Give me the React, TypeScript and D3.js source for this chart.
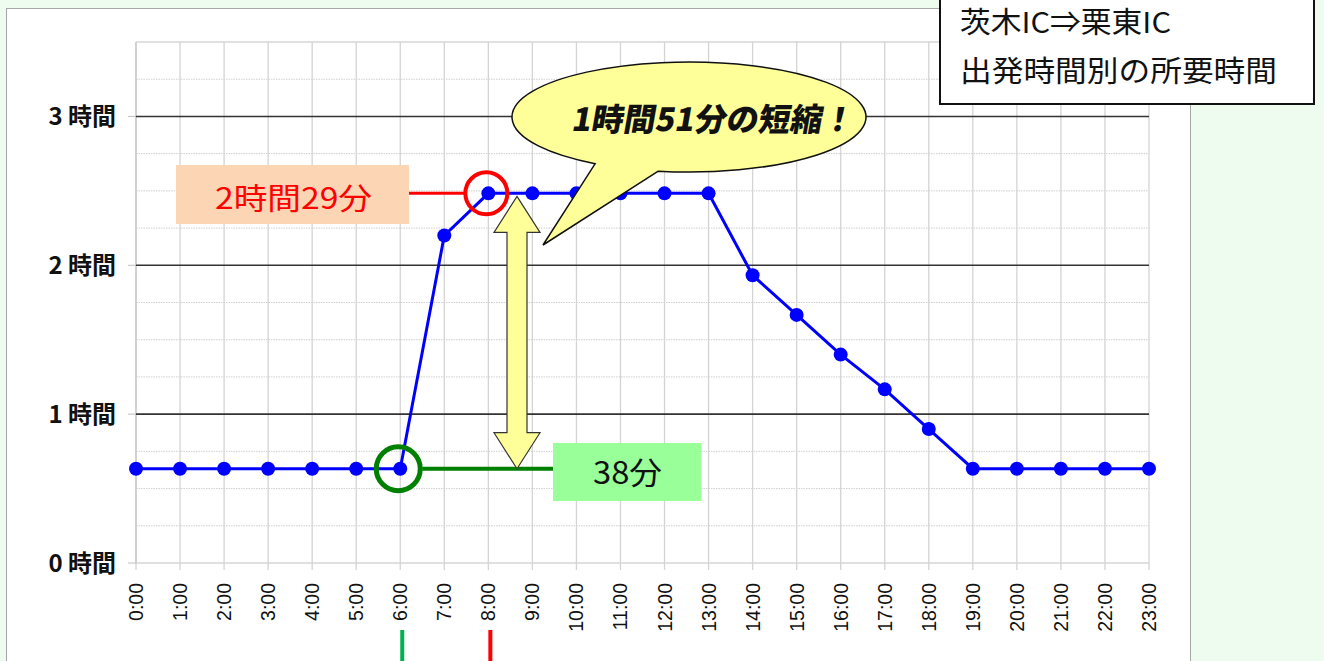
import * as d3 from 'd3'

const hours = d3.range(0, 24)
const hourLabels = hours.map(h => `${h}:00`)
// 所要時間（分）
const minutes = [38, 38, 38, 38, 38, 38, 38, 132, 149, 149, 149, 149, 149, 149, 116, 100, 84, 70, 54, 38, 38, 38, 38, 38]
const yTicks = [0, 1, 2, 3]
const titleLines = ['茨木IC⇒栗東IC', '出発時間別の所要時間']

const W = 1324
const H = 661
const JP = '"Noto Sans CJK JP", "Noto Sans", sans-serif'

const App = () => {
    const x = d3.scaleLinear().domain([0, 23]).range([136, 1149])
    const y = d3.scaleLinear().domain([0, 3.5]).range([563, 42])
    const line = d3
        .line<number>()
        .x((_, i) => x(hours[i]))
        .y(d => y(d / 60))

    const minor = d3.range(0.25, 3.4, 0.25).filter(v => Math.abs(v - Math.round(v)) > 0.01)

    const peakX = x(8)
    const peakY = y(minutes[8] / 60)
    const lowX = x(6)
    const lowY = y(minutes[6] / 60)

    // double arrow between the two levels
    const ax = 517
    const headW = 23
    const shaftW = 10
    const headH = 36
    const arrow = [
        [ax, peakY + 3],
        [ax + headW, peakY + 3 + headH],
        [ax + shaftW, peakY + 3 + headH],
        [ax + shaftW, lowY - headH],
        [ax + headW, lowY - headH],
        [ax, lowY],
        [ax - headW, lowY - headH],
        [ax - shaftW, lowY - headH],
        [ax - shaftW, peakY + 3 + headH],
        [ax - headW, peakY + 3 + headH],
    ]

    // speech bubble: ellipse + tail
    const cx = 689
    const cy = 117
    const rx = 177
    const ry = 55
    const a1 = (100 * Math.PI) / 180
    const a2 = (122 * Math.PI) / 180
    const bubblePath =
        `M${cx + rx * Math.cos(a1)},${cy + ry * Math.sin(a1)} ` +
        `L543,245 ` +
        `L${cx + rx * Math.cos(a2)},${cy + ry * Math.sin(a2)} ` +
        `A${rx},${ry} 0 1 1 ${cx + rx * Math.cos(a1)},${cy + ry * Math.sin(a1)} Z`

    return (
        <div style={{ position: 'absolute', left: 0, top: 0 }}>
            <style>{`body{margin:0}`}</style>
            <svg width={W} height={H} style={{ display: 'block' }} fontFamily={JP}>
                <rect x={0} y={0} width={W} height={H} fill='#EDFCEE' />
                <rect x={6.5} y={8.5} width={1184} height={H} fill='#fff' stroke='#A8A8A8' />

                {/* grid */}
                {minor.map(v => (
                    <line key={v} x1={x(0)} x2={x(23)} y1={y(v)} y2={y(v)} stroke='#CFCFCF' strokeDasharray='1.5,1' />
                ))}
                <line x1={x(0)} x2={x(23)} y1={y(3.5)} y2={y(3.5)} stroke='#D6D6D6' strokeWidth={1.5} />
                <line x1={x(0)} x2={x(23)} y1={y(0)} y2={y(0)} stroke='#D6D6D6' strokeWidth={1.5} />
                {hours.map(h => (
                    <line key={h} x1={x(h)} x2={x(h)} y1={y(3.5)} y2={y(0) + 7} stroke='#D4D4D4' strokeWidth={1.3} />
                ))}
                <line x1={x(0)} x2={x(0)} y1={y(3.5)} y2={y(0)} stroke='#BFBFBF' />
                {yTicks.slice(1).map(v => (
                    <line key={v} x1={x(0)} x2={x(23)} y1={y(v)} y2={y(v)} stroke='#333' strokeWidth={1.6} />
                ))}
                {yTicks.map(v => (
                    <g key={v}>
                        <line x1={x(0) - 8} x2={x(0)} y1={y(v)} y2={y(v)} stroke='#BFBFBF' />
                        <text x={116} y={y(v) + 9} textAnchor='end' fontSize={24} fontWeight='bold' fill='#111'>
                            {v} 時間
                        </text>
                    </g>
                ))}
                {hourLabels.map((l, i) => (
                    <text
                        key={l}
                        transform={`translate(${x(hours[i]) + 7},${583}) rotate(-90)`}
                        textAnchor='end'
                        fontSize={19.5}
                        fontFamily='"Liberation Sans", Arial, sans-serif'
                        fill='#111'
                    >
                        {l}
                    </text>
                ))}

                {/* annotation lines */}
                <line x1={408} x2={peakX - 22} y1={peakY} y2={peakY} stroke='#FF0000' strokeWidth={3} />
                <line x1={lowX + 22} x2={553} y1={lowY} y2={lowY} stroke='#008000' strokeWidth={4} />

                {/* series */}
                <path d={line(minutes) ?? ''} fill='none' stroke='#0000FF' strokeWidth={3} />
                {minutes.map((m, i) => (
                    <circle key={i} cx={x(hours[i])} cy={y(m / 60)} r={7} fill='#0000FF' />
                ))}

                <circle cx={peakX - 2} cy={peakY} r={21} fill='none' stroke='#FF0000' strokeWidth={4} />
                <circle cx={lowX - 2} cy={lowY} r={22} fill='none' stroke='#008000' strokeWidth={5} />

                <polygon points={arrow.map(p => p.join(',')).join(' ')} fill='#FFFF99' stroke='#333' strokeWidth={1.2} />

                {/* labels */}
                <rect x={176} y={165} width={233} height={59} fill='#FCD5B4' />
                <text x={215} y={209} fontSize={30} fill='#FF0000' textLength={157} lengthAdjust='spacingAndGlyphs'>
                    2時間29分
                </text>
                <rect x={553} y={443} width={148} height={58} fill='#99FF99' />
                <text x={593} y={484} fontSize={31} fill='#111' textLength={69} lengthAdjust='spacingAndGlyphs'>
                    38分
                </text>

                <path d={bubblePath} fill='#FFFF99' stroke='#111' strokeWidth={1.5} />
                <text
                    x={712}
                    y={131}
                    textAnchor='middle'
                    fontSize={32}
                    fontWeight={900}
                    fill='#111'
                    transform='skewX(-10) translate(23,0)'
                >
                    1時間51分の短縮！
                </text>

                {/* bottom markers */}
                <line x1={lowX + 2} x2={lowX + 2} y1={630} y2={H} stroke='#00B050' strokeWidth={4} />
                <line x1={peakX + 2} x2={peakX + 2} y1={630} y2={H} stroke='#FF0000' strokeWidth={4} />

                {/* title box */}
                <rect x={940} y={-5} width={374} height={109} fill='#fff' stroke='#111' strokeWidth={2} />
                <text x={960} y={33} fontSize={29} fill='#111' textLength={211} lengthAdjust='spacingAndGlyphs'>
                    {titleLines[0]}
                </text>
                <text x={960} y={82} fontSize={29} fill='#111' textLength={317} lengthAdjust='spacingAndGlyphs'>
                    {titleLines[1]}
                </text>
            </svg>
        </div>
    )
}

export default App
